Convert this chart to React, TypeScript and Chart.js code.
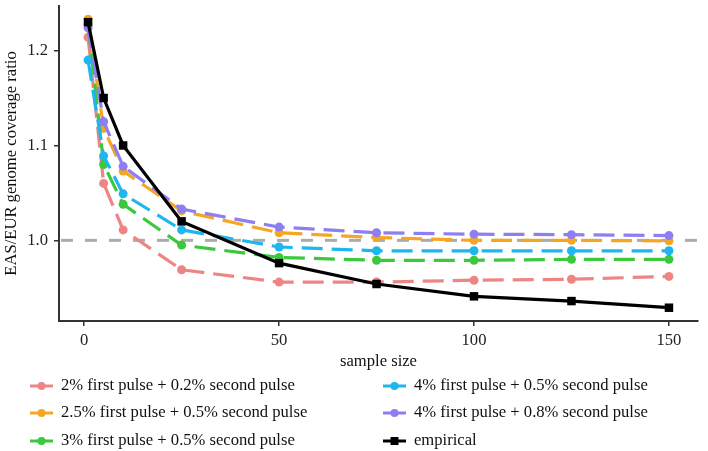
import React, { useEffect, useRef } from "react";
import { Chart, registerables } from "chart.js";

Chart.register(...registerables);

// ---- data ----
const sampleSizes = [1, 5, 10, 25, 50, 75, 100, 125, 150];
const pulse2_02 = [1.214, 1.06, 1.011, 0.969, 0.956, 0.956, 0.958, 0.959, 0.962];
const pulse25_05 = [1.233, 1.118, 1.073, 1.031, 1.008, 1.003, 1.0, 1.0, 0.9995];
const pulse3_05 = [1.228, 1.08, 1.038, 0.995, 0.982, 0.979, 0.979, 0.98, 0.98];
const pulse4_05 = [1.19, 1.089, 1.049, 1.011, 0.993, 0.989, 0.989, 0.989, 0.989];
const pulse4_08 = [1.224, 1.125, 1.078, 1.033, 1.014, 1.008, 1.0065, 1.006, 1.005];
const empirical = [1.23, 1.15, 1.1, 1.02, 0.976, 0.954, 0.941, 0.936, 0.929];

const seriesLabels = [
  "2% first pulse + 0.2% second pulse",
  "2.5% first pulse + 0.5% second pulse",
  "3% first pulse + 0.5% second pulse",
  "4% first pulse + 0.5% second pulse",
  "4% first pulse + 0.8% second pulse",
  "empirical",
];
const xTicks = [0, 50, 100, 150];
const yTicks = [1.0, 1.1, 1.2];
const refLine = 1.0;
const xTitle = "sample size";
const yTitle = "EAS/EUR genome coverage ratio";

// ---- styles ----
const FONT = '"Liberation Serif", "Times New Roman", serif';
const FS = 16.6;
const colors = ["#EE8585", "#F6A623", "#3CC83C", "#1EB6EE", "#8E7EF2", "#000000"];
const seriesValues = [pulse2_02, pulse25_05, pulse3_05, pulse4_05, pulse4_08, empirical];
const drawOrder = [5, 4, 3, 2, 1, 0];

const xSpan = sampleSizes[sampleSizes.length - 1] - sampleSizes[0];
const xMin = sampleSizes[0] - 0.05 * xSpan;
const xMax = sampleSizes[sampleSizes.length - 1] + 0.05 * xSpan;
const yMin = 0.915;
const yMax = 1.247;

const refLinePlugin = {
  id: "refLine",
  beforeDatasetsDraw(chart: any) {
    const { ctx, chartArea, scales } = chart;
    const y = scales.y.getPixelForValue(refLine);
    ctx.save();
    ctx.strokeStyle = "#ABABAB";
    ctx.lineWidth = 3;
    ctx.setLineDash([12, 12]);
    ctx.beginPath();
    ctx.moveTo(chartArea.left + 2, y);
    ctx.lineTo(chartArea.right, y);
    ctx.stroke();
    ctx.restore();
  },
};

const legendPlugin = {
  id: "gridLegend",
  afterDraw(chart: any) {
    const { ctx } = chart;
    const ds = chart.data.datasets;
    const colX = [30, 383];
    const rowY = [386, 413, 441];
    ctx.save();
    ds.forEach((d: any, i: number) => {
      const col = Math.floor(i / 3);
      const row = i % 3;
      const x0 = colX[col];
      const y = rowY[row];
      ctx.strokeStyle = d.borderColor;
      ctx.fillStyle = d.borderColor;
      ctx.lineWidth = 3;
      ctx.setLineDash([]);
      ctx.beginPath();
      ctx.moveTo(x0, y);
      ctx.lineTo(x0 + 23, y);
      ctx.stroke();
      ctx.beginPath();
      if (d.pointStyle === "rect") {
        ctx.rect(x0 + 11.5 - 4, y - 4, 8, 8);
      } else {
        ctx.arc(x0 + 11.5, y, 4, 0, Math.PI * 2);
      }
      ctx.fill();
      ctx.fillStyle = "#111";
      ctx.font = `${FS}px ${FONT}`;
      ctx.textBaseline = "middle";
      ctx.textAlign = "left";
      ctx.fillText(d.label, x0 + 31, y);
    });
    ctx.restore();
  },
};

export default function App() {
  const ref = useRef<HTMLCanvasElement | null>(null);

  useEffect(() => {
    if (!ref.current) return;
    const datasets = seriesValues.map((vals, i) => {
      const isEmp = i === 5;
      return {
        label: seriesLabels[i],
        data: sampleSizes.map((x, k) => ({ x, y: vals[k] })),
        borderColor: colors[i],
        backgroundColor: colors[i],
        borderWidth: 3.2,
        borderDash: isEmp ? [] : [21, 9],
        pointStyle: isEmp ? "rect" : "circle",
        pointRadius: isEmp ? 6 : 4.5,
        pointBorderWidth: 0,
        pointHoverRadius: isEmp ? 6 : 4.5,
        tension: 0,
        fill: false,
        order: drawOrder[i],
      };
    });

    const chart = new Chart(ref.current, {
      type: "line",
      data: { datasets },
      plugins: [refLinePlugin, legendPlugin],
      options: {
        animation: false,
        responsive: false,
        maintainAspectRatio: false,
        layout: { padding: { top: 3, right: 10, left: 0, bottom: 0 } },
        plugins: { legend: { display: false }, tooltip: { enabled: false } },
        scales: {
          x: {
            type: "linear",
            min: xMin,
            max: xMax,
            afterBuildTicks: (s: any) => {
              s.ticks = xTicks.map((v) => ({ value: v }));
            },
            afterFit: (s: any) => {
              s.height = 130;
              s.paddingLeft = 0;
              s.paddingRight = 0;
            },
            ticks: {
              color: "#222",
              font: { family: FONT, size: FS },
              padding: 5,
              maxRotation: 0,
              autoSkip: false,
              callback: (v: any) => String(v),
            },
            grid: {
              display: true,
              drawOnChartArea: false,
              drawTicks: true,
              tickLength: 5,
              color: "#333",
              lineWidth: 1.5,
            },
            border: { display: true, color: "#333", width: 2 },
            title: {
              display: true,
              text: xTitle,
              color: "#111",
              font: { family: FONT, size: FS },
              padding: { top: 0, bottom: 79 },
            },
          },
          y: {
            type: "linear",
            min: yMin,
            max: yMax,
            afterBuildTicks: (s: any) => {
              s.ticks = yTicks.map((v) => ({ value: v }));
            },
            afterFit: (s: any) => {
              s.width = 59;
              s.paddingTop = 0;
              s.paddingBottom = 0;
            },
            ticks: {
              color: "#222",
              font: { family: FONT, size: FS },
              padding: 6,
              autoSkip: false,
              callback: (v: any) => Number(v).toFixed(1),
            },
            grid: {
              display: true,
              drawOnChartArea: false,
              drawTicks: true,
              tickLength: 5,
              color: "#333",
              lineWidth: 1.5,
            },
            border: { display: true, color: "#333", width: 2 },
            title: {
              display: true,
              text: yTitle,
              color: "#111",
              font: { family: FONT, size: FS },
              padding: { top: 2, bottom: 0 },
            },
          },
        },
      },
    } as any);
    return () => chart.destroy();
  }, []);

  return (
    <div style={{ position: "fixed", left: 0, top: 0, width: 708, height: 451, background: "#fff" }}>
      <canvas ref={ref} width={708} height={451} />
    </div>
  );
}
